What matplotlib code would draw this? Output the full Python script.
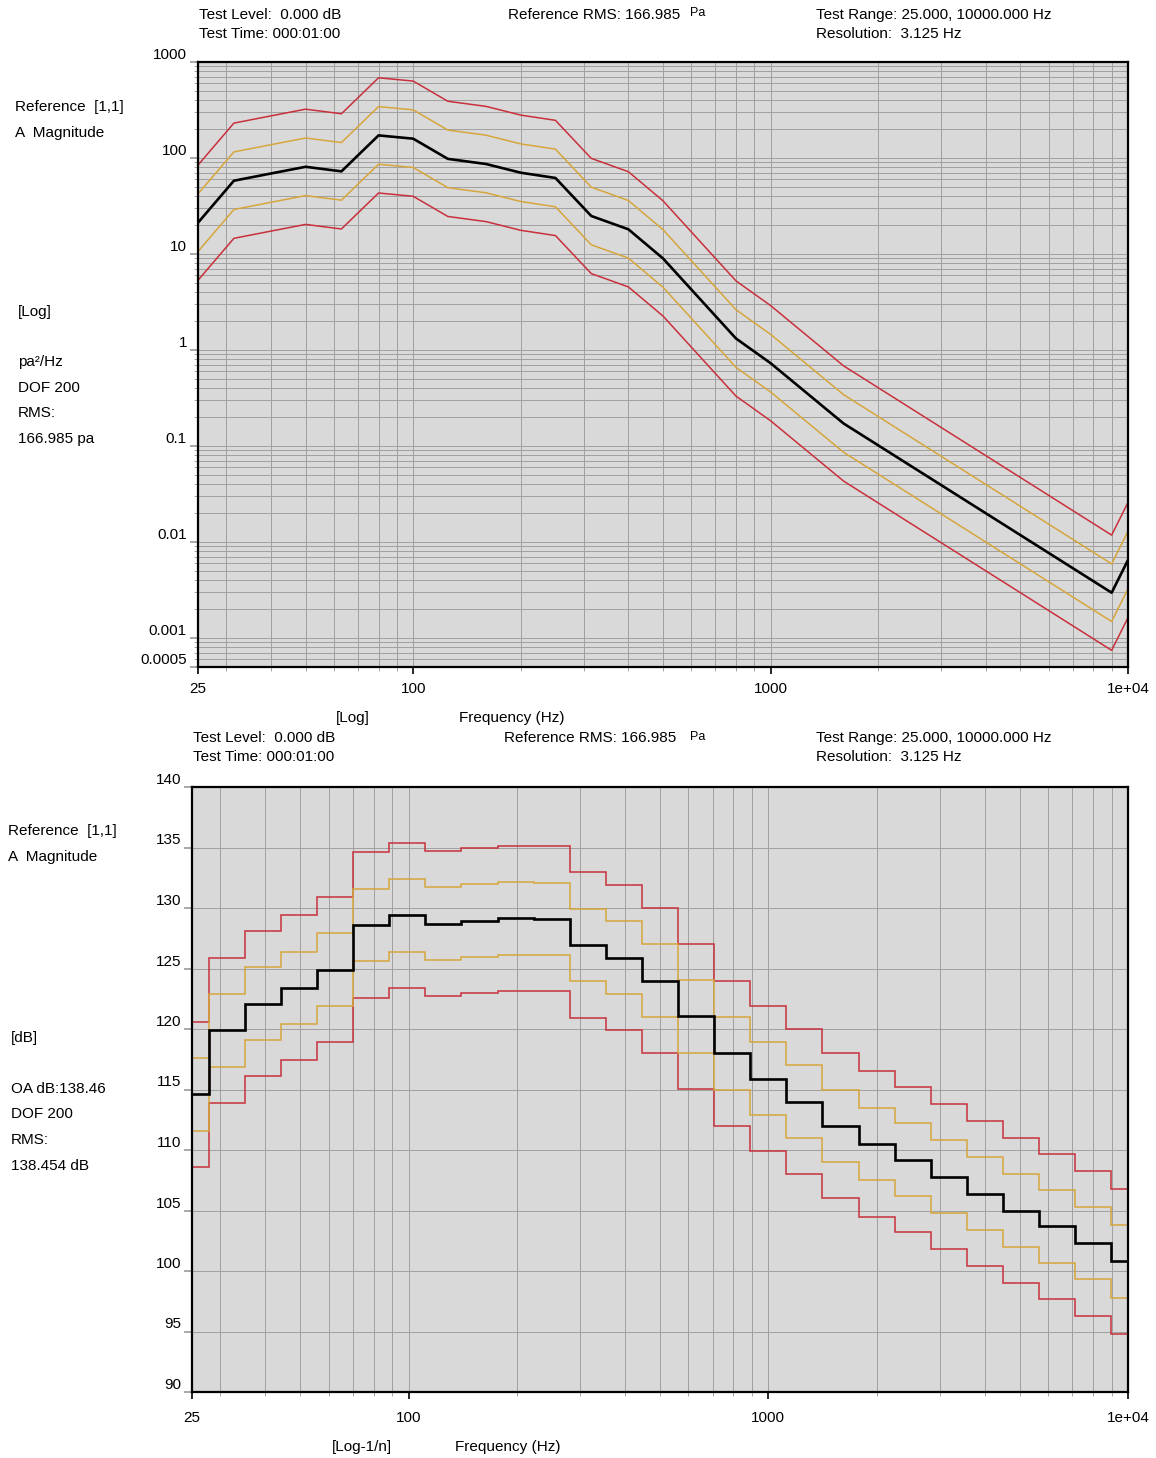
import matplotlib.pyplot as plt
from matplotlib.ticker import FixedLocator, LogLocator, NullFormatter, MultipleLocator, FixedFormatter

plt.rcParams['font.family'] = ['Liberation Sans', 'DejaVu Sans']

# reference PSD profile (Pa^2/Hz), breakpoints
psd_freq = [25, 31.5, 40, 50, 63, 80, 100, 125, 160, 200, 250, 315, 400, 500,
            800, 1000, 1600, 9000, 10000]
psd_level = [21.2, 58, 69, 81, 72.6, 172, 159, 98, 86.6, 70.3, 62, 24.9, 18.1, 9.0,
             1.32, 0.73, 0.172, 0.00297, 0.0065]

# 1/3 octave band levels (dB)
band_centers = [25, 31.5, 40, 50, 63, 80, 100, 125, 160, 200, 250, 315, 400, 500,
                630, 800, 1000, 1250, 1600, 2000, 2500, 3150, 4000, 5000, 6300,
                8000, 10000]
band_db = [114.6, 119.9, 122.1, 123.4, 124.9, 128.6, 129.4, 128.7, 128.95, 129.15,
           129.1, 126.95, 125.9, 124.0, 121.05, 118.0, 115.9, 114.0, 112.0, 110.5,
           109.2, 107.8, 106.4, 105.0, 103.7, 102.3, 100.8]

# tolerance offsets (dB)
alarm_db = 3
abort_db = 6

top_yticks = [1000, 100, 10, 1, 0.1, 0.01, 0.001, 0.0005]
top_ylabels = ['1000', '100', '10', '1', '0.1', '0.01', '0.001', '0.0005']
x_ticks = [25, 100, 1000, 10000]
x_labels = ['25', '100', '1000', '1e+04']

RED = '#c8303c'
GOLD = '#d6a63c'
BG = '#d9d9d9'
GRID = '#a0a0a0'

W, H = 1156, 1458
fig = plt.figure(figsize=(W / 100, H / 100), dpi=100)


def put(x, y, s, size=11, **kw):
    fig.text(x / W, 1 - y / H, s, va='center', fontsize=size, **kw)


def axes_px(l, t, r, b):
    return fig.add_axes([l / W, 1 - b / H, (r - l) / W, (b - t) / H])


def style(ax, xpad):
    ax.set_facecolor(BG)
    ax.set_xscale('log')
    ax.set_xlim(25, 10000)
    ax.xaxis.set_major_locator(FixedLocator(x_ticks))
    ax.xaxis.set_major_formatter(FixedFormatter(x_labels))
    ax.xaxis.set_minor_locator(LogLocator(base=10, subs=range(2, 10), numticks=20))
    ax.xaxis.set_minor_formatter(NullFormatter())
    ax.grid(True, which='both', color=GRID, lw=0.7)
    ax.set_axisbelow(True)
    for sp in ax.spines.values():
        sp.set_linewidth(1.6)
    ax.tick_params(which='major', length=5, width=1.2, labelsize=11)
    ax.tick_params(axis='x', which='major', pad=xpad)
    ax.tick_params(which='minor', length=3, width=0.6, color='#999999')
    ax.tick_params(axis='y', which='major', length=6, color='#999999', pad=2)
    for lbl in ax.get_yticklabels():
        lbl.set_va('bottom')


# ---- top: PSD ----
ax1 = axes_px(198, 62, 1128, 667)
ax1.set_yscale('log')
ax1.set_ylim(0.0005, 1000)
ax1.yaxis.set_major_locator(FixedLocator(top_yticks))
ax1.yaxis.set_major_formatter(FixedFormatter(top_ylabels))
ax1.yaxis.set_minor_locator(LogLocator(base=10, subs=range(2, 10), numticks=20))
ax1.yaxis.set_minor_formatter(NullFormatter())
style(ax1, 6)

for db, col in [(abort_db, RED), (-abort_db, RED), (alarm_db, GOLD), (-alarm_db, GOLD)]:
    f = 10 ** (db / 10)
    ax1.plot(psd_freq, [v * f for v in psd_level], color=col, lw=1.1)
ax1.plot(psd_freq, psd_level, color='black', lw=1.9)

# ---- bottom: 1/3 octave ----
ax2 = axes_px(192, 787, 1128, 1392)
ax2.set_ylim(90, 140)
ax2.yaxis.set_major_locator(MultipleLocator(5))
style(ax2, 9)

n = len(band_centers)
edges = [25] + [1000 * 2 ** ((k + 0.5) / 3) for k in range(-16, -16 + n - 1)] + [10000]
for db, col in [(abort_db, RED), (-abort_db, RED), (alarm_db, GOLD), (-alarm_db, GOLD)]:
    ax2.stairs([v + db for v in band_db], edges, color=col, lw=1.1, baseline=None)
ax2.stairs(band_db, edges, color='black', lw=1.9, baseline=None)

# ---- header / side texts ----
for y0, x0 in [(0, 199), (723, 193)]:
    put(x0, 15 + y0, 'Test Level:  0.000 dB')
    put(x0, 34 + y0, 'Test Time: 000:01:00')
put(508, 15, 'Reference RMS: 166.985')
put(690, 13, 'Pa', size=9)
put(504, 738, 'Reference RMS: 166.985')
put(690, 737, 'Pa', size=9)
for y0 in [15, 738]:
    put(816, y0, 'Test Range: 25.000, 10000.000 Hz')
    put(816, y0 + 19, 'Resolution:  3.125 Hz')

put(15, 107, 'Reference  [1,1]')
put(15, 133, 'A  Magnitude')
put(18, 312, '[Log]')
put(18, 362, 'pa²/Hz')
put(18, 388, 'DOF 200')
put(18, 413, 'RMS:')
put(18, 439, '166.985 pa')
put(353, 718, '[Log]', ha='center')
put(459, 718, 'Frequency (Hz)')

put(8, 831, 'Reference  [1,1]')
put(8, 857, 'A  Magnitude')
put(11, 1038, '[dB]')
put(11, 1089, 'OA dB:138.46')
put(11, 1114, 'DOF 200')
put(11, 1140, 'RMS:')
put(11, 1166, '138.454 dB')
put(362, 1447, '[Log-1/n]', ha='center')
put(455, 1447, 'Frequency (Hz)')

fig.savefig('out.png', dpi=100)
